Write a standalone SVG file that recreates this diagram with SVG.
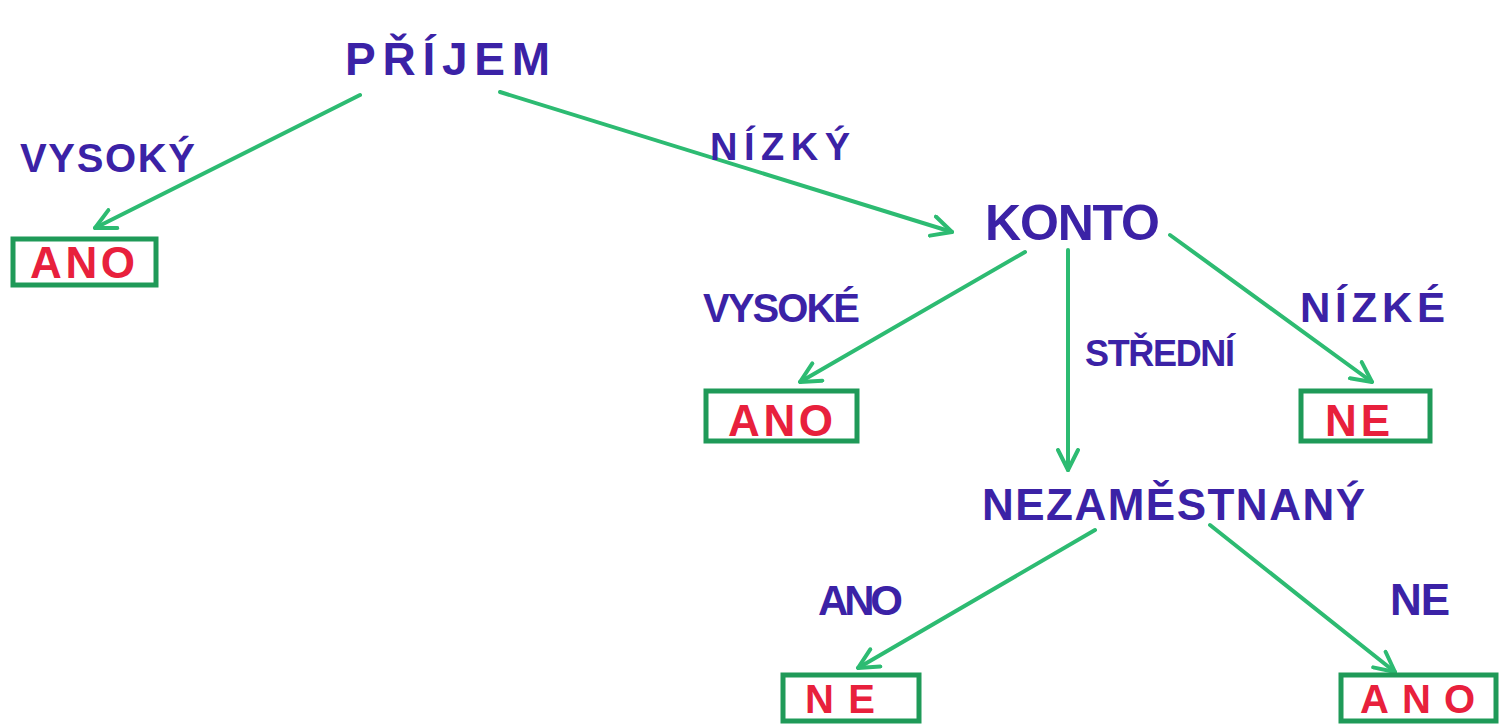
<svg xmlns="http://www.w3.org/2000/svg" width="1500" height="724" viewBox="0 0 1500 724">
<style>
.lbl{font-family:"Liberation Sans",Arial,sans-serif;font-weight:bold;fill:#3b22a6;}
.res{font-family:"Liberation Sans",Arial,sans-serif;font-weight:bold;fill:#e8203c;}
.box{fill:#ffffff;stroke:#1f9a58;stroke-width:5;}
.edge{fill:none;stroke:#2dbb72;stroke-width:4;stroke-linecap:round;marker-end:url(#arr);}
</style>
<defs>
<marker id="arr" viewBox="0 0 12 12" refX="11" refY="6" markerWidth="6" markerHeight="6" orient="auto" markerUnits="strokeWidth">
<path d="M1,1 L11,6 L1,11" fill="none" stroke="#2dbb72" stroke-width="2" stroke-linecap="round" stroke-linejoin="round"/>
</marker>
</defs>
<rect width="1500" height="724" fill="#ffffff"/>
<g id="connectors">
<line class="edge" x1="360" y1="95" x2="95" y2="228"/>
<line class="edge" x1="500" y1="92" x2="952" y2="232"/>
<line class="edge" x1="1025" y1="252" x2="800" y2="382"/>
<line class="edge" x1="1068" y1="250" x2="1068" y2="470"/>
<line class="edge" x1="1170" y1="235" x2="1372" y2="382"/>
<line class="edge" x1="1095" y1="530" x2="858" y2="668"/>
<line class="edge" x1="1210" y1="525" x2="1395" y2="672"/>
</g>
<g id="edge-labels">
<text class="lbl" x="20" y="172" font-size="40" textLength="175" lengthAdjust="spacing">VYSOKÝ</text>
<text class="lbl" x="710" y="160" font-size="38" textLength="140" lengthAdjust="spacing">NÍZKÝ</text>
<text class="lbl" x="703" y="322" font-size="40" textLength="157" lengthAdjust="spacing">VYSOKÉ</text>
<text class="lbl" x="1085" y="366" font-size="36" textLength="150" lengthAdjust="spacing">STŘEDNÍ</text>
<text class="lbl" x="1300" y="322" font-size="42" textLength="145" lengthAdjust="spacing">NÍZKÉ</text>
<text class="lbl" x="818" y="615" font-size="42" textLength="85" lengthAdjust="spacing">ANO</text>
<text class="lbl" x="1390" y="615" font-size="44" textLength="60" lengthAdjust="spacing">NE</text>
</g>
<g id="node-prijem">
<text class="lbl" x="345" y="75" font-size="46" textLength="205" lengthAdjust="spacing">PŘÍJEM</text>
</g>
<g id="node-ano-1">
<rect class="box" x="13" y="239" width="143" height="46"/>
<text class="res" x="30" y="278" font-size="44" textLength="105" lengthAdjust="spacing">ANO</text>
</g>
<g id="node-konto">
<text class="lbl" x="985" y="240" font-size="50" textLength="175" lengthAdjust="spacing">KONTO</text>
</g>
<g id="node-ano-2">
<rect class="box" x="706" y="391" width="151" height="50"/>
<text class="res" x="728" y="436" font-size="44" textLength="105" lengthAdjust="spacing">ANO</text>
</g>
<g id="node-ne-1">
<rect class="box" x="1301" y="391" width="129" height="50"/>
<text class="res" x="1325" y="436" font-size="44" textLength="65" lengthAdjust="spacing">NE</text>
</g>
<g id="node-nezamestnany">
<text class="lbl" x="982" y="520" font-size="44" textLength="383" lengthAdjust="spacing">NEZAMĚSTNANÝ</text>
</g>
<g id="node-ne-2">
<rect class="box" x="783" y="675" width="136" height="46"/>
<text class="res" x="805" y="713" font-size="40" textLength="70" lengthAdjust="spacing">NE</text>
</g>
<g id="node-ano-3">
<rect class="box" x="1341" y="675" width="155" height="46"/>
<text class="res" x="1360" y="713" font-size="40" textLength="115" lengthAdjust="spacing">ANO</text>
</g>
</svg>
